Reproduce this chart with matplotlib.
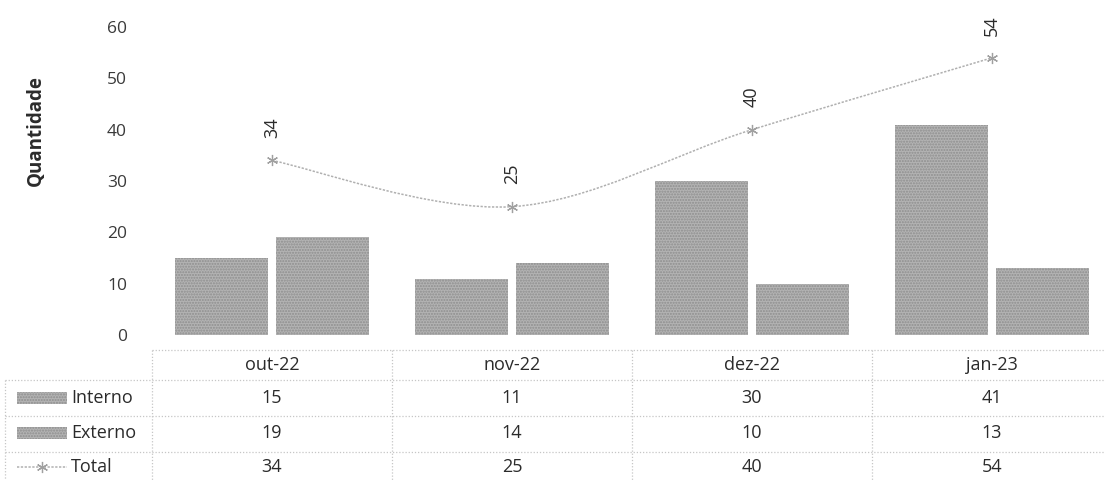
import numpy as np
import matplotlib
matplotlib.use("Agg")
import matplotlib.pyplot as plt
from matplotlib import transforms
from matplotlib.path import Path
from matplotlib.patches import PathPatch, Rectangle
from matplotlib.lines import Line2D

# data
months = ["out-22", "nov-22", "dez-22", "jan-23"]
interno = [15, 11, 30, 41]
externo = [19, 14, 10, 13]
total = [34, 25, 40, 54]
series_names = ["Interno", "Externo", "Total"]
y_ticks = [0, 10, 20, 30, 40, 50, 60]

W, H = 1105, 480
plt.rcParams["font.family"] = ["Open Sans", "DejaVu Sans"]
TXT = "#2b2b2b"
BAR_FC = "#b3b3b3"
BAR_HATCH = "#8e8e8e"
LINE_C = "#b0b0b0"
GRID_C = "#c6c6c6"

fig = plt.figure(figsize=(W / 100, H / 100), dpi=100)
ax = fig.add_axes([152 / W, (H - 335) / H, 960 / W, 308 / H])

x = np.arange(len(months))
bw = 0.385
off = 0.21
ax.bar(x - off, interno, bw, color=BAR_FC, edgecolor=BAR_HATCH, hatch="......", linewidth=0)
ax.bar(x + off, externo, bw, color=BAR_FC, edgecolor=BAR_HATCH, hatch="......", linewidth=0)

# smoothed total line (Excel style bezier through the points)
pts = np.column_stack([x, total]).astype(float)
n = len(pts)
verts = [pts[0]]
codes = [Path.MOVETO]
for i in range(n - 1):
    p0 = pts[max(i - 1, 0)]
    p1 = pts[i]
    p2 = pts[i + 1]
    p3 = pts[min(i + 2, n - 1)]
    verts += [p1 + (p2 - p0) / 6, p2 - (p3 - p1) / 6, p2]
    codes += [Path.CURVE4] * 3
ax.add_patch(PathPatch(Path(verts, codes), fill=False, edgecolor=LINE_C,
                       linewidth=1.1, linestyle=(0, (1.5, 1))))
ax.plot(x, total, linestyle="none", marker=(6, 2, 0), markersize=8,
        color="#a0a0a0", markeredgewidth=0.9)
for xi, v in zip(x, total):
    ax.annotate(str(v), (xi, v), xytext=(0, 16), textcoords="offset points",
                rotation=90, ha="center", va="bottom", fontsize=13, color=TXT)

ax.set_xlim(-0.5, len(months) - 0.5)
ax.set_ylim(0, 60)
ax.set_yticks(y_ticks)
ax.tick_params(axis="y", length=0, pad=18, labelsize=12.5, labelcolor="#3a3a3a")
ax.set_xticks([])
for s in ax.spines.values():
    s.set_visible(False)

fig.text(36 / W, 1 - 131 / H, "Quantidade", rotation=90, ha="center", va="center",
         fontsize=13.5, fontweight="bold", color=TXT)

# data table under the chart
bt = transforms.blended_transform_factory(ax.transData, fig.transFigure)
fy = lambda px: 1 - px / H
fx = lambda px: px / W

row_y = [365, 398, 433, 467]
for xi, m in zip(x, months):
    fig.text(xi, fy(row_y[0]), m, transform=bt, ha="center", va="center", fontsize=13, color=TXT)
for r, vals in enumerate([interno, externo, total]):
    for xi, v in zip(x, vals):
        fig.text(xi, fy(row_y[r + 1]), str(v), transform=bt, ha="center", va="center",
                 fontsize=13, color=TXT)

# table grid
line_kw = dict(color=GRID_C, linewidth=0.9, linestyle=(0, (1, 1.5)))
fig.add_artist(Line2D([fx(152), 1], [fy(350), fy(350)], **line_kw))
for yy in [380, 416, 452]:
    fig.add_artist(Line2D([fx(5), 1], [fy(yy), fy(yy)], **line_kw))
fig.add_artist(Line2D([fx(5), fx(5)], [fy(380), 0], **line_kw))
for b in np.arange(len(months) + 1) - 0.5:
    fig.add_artist(Line2D([b, b], [fy(350), 0], transform=bt, **line_kw))

# legend keys in first column
for r, name in enumerate(series_names):
    yc = row_y[r + 1]
    if r < 2:
        fig.add_artist(Rectangle((fx(17), fy(yc + 6)), 50 / W, 12 / H, facecolor=BAR_FC,
                                 edgecolor=BAR_HATCH, hatch="......", linewidth=0))
    else:
        fig.add_artist(Line2D([fx(17), fx(67)], [fy(yc), fy(yc)], color=LINE_C,
                              linewidth=1.1, linestyle=(0, (1.5, 1))))
        fig.add_artist(Line2D([fx(42)], [fy(yc)], marker=(6, 2, 0), markersize=8,
                              color="#a0a0a0", markeredgewidth=0.9, linestyle="none"))
    fig.text(fx(71), fy(yc), name, ha="left", va="center", fontsize=13, color=TXT)

fig.savefig("out.png", dpi=100)
